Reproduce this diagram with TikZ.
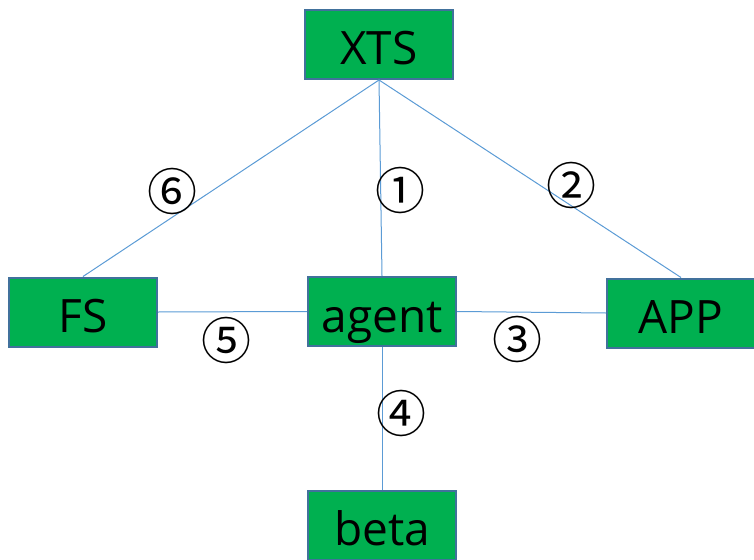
\documentclass[tikz,border=0pt]{standalone}
\usepackage{fontspec}
\setmainfont{Open Sans}
\newfontfamily\circfont{Noto Sans CJK SC}
\definecolor{boxgreen}{HTML}{00B050}
\definecolor{boxedge}{HTML}{41719C}
\definecolor{linkblue}{HTML}{5B9BD5}
\begin{document}
\begin{tikzpicture}[x=1pt,y=-1pt,
  box/.style={draw=boxedge,fill=boxgreen,line width=2pt,minimum width=148pt,minimum height=69pt,inner sep=0pt,text height=41pt,text depth=0pt,font=\fontsize{46}{46}\selectfont,text=black},
  link/.style={draw=linkblue,line width=1pt},
  num/.style={font=\circfont\fontsize{50}{50}\selectfont,inner sep=0pt}]
\useasboundingbox (0,0) rectangle (754,559);
\node[box] (xts) at (379,44.5) {XTS};
\node[box] (fs) at (83,312) {FS};
\node[box] (agent) at (382,311.5) {agent};
\node[box] (app) at (681,313) {APP};
\node[box] (beta) at (382,525) {beta};
\draw[link] (xts.south) -- (fs.north);
\draw[link] (xts.south) -- (agent.north);
\draw[link] (xts.south) -- (app.north);
\draw[link] (fs.east) -- (agent.west);
\draw[link] (agent.east) -- (app.west);
\draw[link] (agent.south) -- (beta.north);
\node[num] (n6) at (172,191) {⑥};
\node[num] (n1) at (400,190) {①};
\node[num] (n2) at (571,185) {②};
\node[num] (n5) at (226,340) {⑤};
\node[num] (n3) at (517,339) {③};
\node[num] (n4) at (401,413) {④};
\end{tikzpicture}
\end{document}
